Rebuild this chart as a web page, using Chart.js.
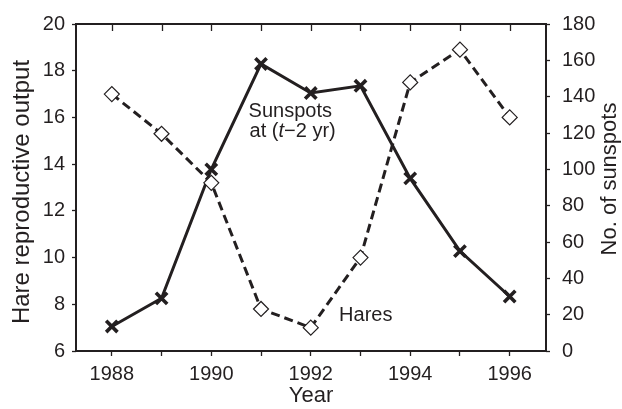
<!DOCTYPE html>
<html>
<head>
<meta charset="utf-8">
<script src="https://cdn.jsdelivr.net/npm/chart.js@4/dist/chart.umd.min.js"></script>
<style>
  html, body { margin: 0; padding: 0; background: #fff; }
  #wrap { width: 622px; height: 409px; }
</style>
</head>
<body>
<div id="wrap"><canvas id="hareChart" width="622" height="409"></canvas></div>
<script>
// values
const years = [1988, 1989, 1990, 1991, 1992, 1993, 1994, 1995, 1996];
const hares = [17.0, 15.3, 13.2, 7.8, 7.0, 10.0, 17.5, 18.9, 16.0];
const sunspots = [13.5, 29, 100, 158, 142, 146, 95, 55, 30];
const labeledYears = [1988, 1990, 1992, 1994, 1996];

const ink = '#231f20';
const fontFamily = '"Liberation Sans", Arial, Helvetica, sans-serif';

// frame, inward ticks on the top edge, axis titles and in-plot labels
const framePlugin = {
  id: 'frame',
  afterDatasetsDraw(chart) {
    const { ctx, chartArea: a } = chart;
    const xs = chart.scales.x;
    const yl = chart.scales.y;
    ctx.save();
    ctx.strokeStyle = ink;
    ctx.lineWidth = 2;
    ctx.strokeRect(a.left, a.top, a.right - a.left, a.bottom - a.top);
    ctx.lineWidth = 1.3;
    years.forEach(yr => {
      const px = Math.round(xs.getPixelForValue(yr)) + 0.5;
      ctx.beginPath();
      ctx.moveTo(px, a.top);
      ctx.lineTo(px, a.top + 7);
      ctx.stroke();
    });

    ctx.fillStyle = ink;
    ctx.textBaseline = 'middle';
    ctx.textAlign = 'center';

    // y axis titles, both reading bottom to top
    ctx.font = '24px ' + fontFamily;
    ctx.save();
    ctx.translate(22, 192);
    ctx.rotate(-Math.PI / 2);
    ctx.fillText('Hare reproductive output', 0, 0);
    ctx.restore();
    ctx.font = '22px ' + fontFamily;
    ctx.save();
    ctx.translate(610, 179);
    ctx.rotate(-Math.PI / 2);
    ctx.fillText('No. of sunspots', 0, 0);
    ctx.restore();

    ctx.textAlign = 'left';
    ctx.font = '20px ' + fontFamily;
    const sx = xs.getPixelForValue(1990.75);
    const sy = yl.getPixelForValue(16.26);
    ctx.fillText('Sunspots', sx, sy);
    // second line: at (t–2 yr) with italic t
    let cx = sx + 1;
    const y2 = sy + 20;
    const parts = [['at (', false], ['t', true], ['\u22122 yr)', false]];
    parts.forEach(([txt, it]) => {
      ctx.font = (it ? 'italic ' : '') + '20px ' + fontFamily;
      ctx.fillText(txt, cx, y2);
      cx += ctx.measureText(txt).width;
    });
    ctx.font = '20px ' + fontFamily;
    ctx.fillText('Hares', xs.getPixelForValue(1992.57), yl.getPixelForValue(7.5));
    ctx.restore();
  }
};

const ctx = document.getElementById('hareChart').getContext('2d');
new Chart(ctx, {
  type: 'line',
  data: {
    datasets: [
      {
        label: 'Hares',
        data: years.map((x, i) => ({ x: x, y: hares[i] })),
        yAxisID: 'y',
        borderColor: ink,
        borderWidth: 3,
        borderDash: [9, 5],
        pointStyle: 'rectRot',
        pointRadius: 7.5,
        pointBorderWidth: 1.2,
        pointBackgroundColor: '#fff',
        pointBorderColor: ink,
        tension: 0
      },
      {
        label: 'Sunspots',
        data: years.map((x, i) => ({ x: x, y: sunspots[i] })),
        yAxisID: 'y2',
        borderColor: ink,
        borderWidth: 3,
        pointStyle: 'crossRot',
        pointRadius: 8,
        pointBorderWidth: 3.6,
        pointBorderColor: ink,
        tension: 0
      }
    ]
  },
  options: {
    responsive: false,
    animation: false,
    events: [],
    layout: { padding: { top: 17, left: 0, right: 0, bottom: 0 } },
    plugins: {
      legend: { display: false },
      tooltip: { enabled: false }
    },
    scales: {
      x: {
        type: 'linear',
        min: 1987.28,
        max: 1996.73,
        afterBuildTicks: s => { s.ticks = years.map(v => ({ value: v })); },
        afterFit: s => { s.height = 58; },
        border: { display: false },
        grid: { drawOnChartArea: false, drawTicks: true, tickLength: 5, tickWidth: 1.3, tickColor: ink },
        ticks: {
          color: ink,
          font: { size: 20, family: fontFamily },
          padding: 6,
          maxRotation: 0,
          autoSkip: false,
          callback: v => labeledYears.includes(v) ? String(v) : ''
        },
        title: {
          display: true,
          text: 'Year',
          color: ink,
          font: { size: 22, family: fontFamily, lineHeight: 1.2 },
          padding: { top: 0, bottom: 0 }
        }
      },
      y: {
        position: 'left',
        min: 6,
        max: 20,
        afterFit: s => { s.width = 76; },
        border: { display: false },
        grid: { drawOnChartArea: false, tickLength: 4, tickWidth: 1.3, tickColor: ink },
        ticks: {
          stepSize: 2,
          color: ink,
          font: { size: 20, family: fontFamily },
          padding: 7
        }
      },
      y2: {
        position: 'right',
        min: 0,
        max: 180,
        afterFit: s => { s.width = 76; },
        border: { display: false },
        grid: { drawOnChartArea: false, tickLength: 4, tickWidth: 1.3, tickColor: ink },
        ticks: {
          stepSize: 20,
          color: ink,
          font: { size: 20, family: fontFamily },
          padding: 12
        }
      }
    }
  },
  plugins: [framePlugin]
});
</script>
</body>
</html>
